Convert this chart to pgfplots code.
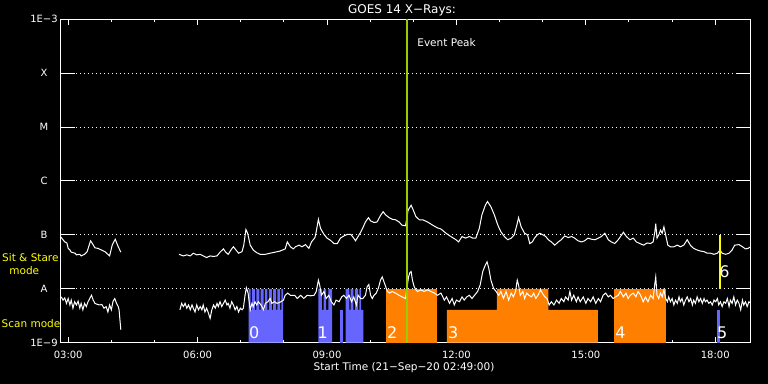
\documentclass[border=0pt]{standalone}
\usepackage{fontspec}
\setmainfont{DejaVu Sans}
\usepackage{pgfplots}
\pgfplotsset{compat=1.18}
\definecolor{scanblue}{RGB}{102,102,255}
\definecolor{sitorange}{RGB}{255,128,0}
\definecolor{peakgreen}{RGB}{154,205,0}
\definecolor{labyellow}{RGB}{255,255,0}
\begin{document}
\begin{tikzpicture}
\path[use as bounding box, fill=black] (0,0) rectangle (768bp,384bp);
\begin{axis}[
  at={(60.3bp,41.3bp)}, anchor=south west,
  scale only axis, width=690.2bp, height=323.4bp,
  xmin=2.817, xmax=18.817, ymin=-9, ymax=-3,
  axis line style={white, line width=1bp},
  xtick={3,6,9,12,15,18},
  xticklabels={03:00,06:00,09:00,12:00,15:00,18:00},
  minor x tick num=2,
  ytick={-9,-8,-7,-6,-5,-4,-3},
  yticklabels={1E−9,A,B,C,M,X,1E−3},
  xtick style={white, line width=1bp, /pgfplots/major tick length=6bp, /pgfplots/minor tick length=3bp},
  ytick style={white, line width=1bp, /pgfplots/major tick length=14.5bp},
  ymajorgrids,
  grid style={white, line width=1bp, dash pattern=on 1bp off 3bp},
  ticklabel style={white, font=\fontsize{10bp}{12bp}\selectfont},
  yticklabel style={anchor=center, xshift=-16.3bp},
  xticklabel style={anchor=center, yshift=-12.5bp},
]
% --- scan mode (blue) and sit & stare (orange) intervals
\addplot[fill=scanblue, draw=none] coordinates {(7.18,-9) (7.18,-8) (7.23,-8) (7.23,-8.39) (7.26,-8.39) (7.26,-8) (7.33,-8) (7.33,-8.39) (7.36,-8.39) (7.36,-8) (7.43,-8) (7.43,-8.39) (7.46,-8.39) (7.46,-8) (7.53,-8) (7.53,-8.39) (7.56,-8.39) (7.56,-8) (7.62,-8) (7.62,-8.39) (7.65,-8.39) (7.65,-8) (7.72,-8) (7.72,-8.39) (7.75,-8.39) (7.75,-8) (7.82,-8) (7.82,-8.39) (7.85,-8.39) (7.85,-8) (7.91,-8) (7.91,-8.39) (7.94,-8.39) (7.94,-8) (7.98,-8) (7.98,-9)} -- cycle;
\addplot[fill=scanblue, draw=none] coordinates {(8.80,-9) (8.80,-8) (8.88,-8) (8.88,-8.39) (8.92,-8.39) (8.92,-8) (8.98,-8) (8.98,-8.39) (9.03,-8.39) (9.03,-8) (9.12,-8) (9.12,-9)} -- cycle;
\addplot[fill=scanblue, draw=none] coordinates {(9.31,-9) (9.31,-8.39) (9.38,-8.39) (9.38,-9)} -- cycle;
\addplot[fill=scanblue, draw=none] coordinates {(9.43,-9) (9.43,-8) (9.52,-8) (9.52,-8.39) (9.55,-8.39) (9.55,-8) (9.61,-8) (9.61,-8.39) (9.65,-8.39) (9.65,-8) (9.72,-8) (9.72,-8.39) (9.75,-8.39) (9.75,-8) (9.79,-8) (9.79,-8.39) (9.84,-8.39) (9.84,-9)} -- cycle;
\addplot[fill=sitorange, draw=none] coordinates {(10.37,-9) (10.37,-8) (11.55,-8) (11.55,-9)} -- cycle;
\addplot[fill=sitorange, draw=none] coordinates {(11.78,-9) (11.78,-8.39) (12.94,-8.39) (12.94,-8) (14.13,-8) (14.13,-8.39) (15.28,-8.39) (15.28,-9)} -- cycle;
\addplot[fill=sitorange, draw=none] coordinates {(15.66,-9) (15.66,-8) (16.85,-8) (16.85,-9)} -- cycle;
\addplot[fill=scanblue, draw=none] coordinates {(18.03,-9) (18.03,-8.39) (18.12,-8.39) (18.12,-9)} -- cycle;
% --- long channel (upper)
\addplot[white, line width=1bp] coordinates {(2.82,-7.03) (2.92,-7.13) (2.97,-7.15) (3.00,-7.25) (3.04,-7.28) (3.07,-7.32) (3.16,-7.34) (3.19,-7.37) (3.27,-7.36) (3.30,-7.39) (3.38,-7.36) (3.44,-7.31) (3.51,-7.13) (3.52,-7.11) (3.56,-7.16) (3.62,-7.24) (3.69,-7.25) (3.77,-7.28) (3.85,-7.31) (3.96,-7.39) (4.02,-7.19) (4.09,-7.08) (4.16,-7.22) (4.22,-7.32)};
\addplot[white, line width=1bp] coordinates {(5.57,-7.36) (5.67,-7.39) (5.75,-7.37) (5.83,-7.39) (5.90,-7.34) (5.98,-7.37) (6.06,-7.36) (6.13,-7.39) (6.21,-7.42) (6.29,-7.39) (6.37,-7.40) (6.45,-7.39) (6.52,-7.32) (6.60,-7.26) (6.65,-7.32) (6.71,-7.36) (6.79,-7.26) (6.83,-7.22) (6.89,-7.28) (6.95,-7.34) (7.03,-7.31) (7.07,-7.19) (7.12,-6.90) (7.16,-6.97) (7.22,-7.19) (7.29,-7.28) (7.37,-7.33) (7.45,-7.36) (7.57,-7.36) (7.68,-7.34) (7.80,-7.32) (7.91,-7.30) (8.03,-7.26) (8.08,-7.13) (8.15,-7.22) (8.22,-7.26) (8.27,-7.22) (8.35,-7.19) (8.42,-7.22) (8.50,-7.18) (8.58,-7.25) (8.64,-7.13) (8.72,-7.05) (8.75,-6.94) (8.80,-6.71) (8.85,-6.88) (8.93,-6.99) (9.00,-7.06) (9.08,-7.10) (9.16,-7.16) (9.24,-7.16) (9.31,-7.06) (9.39,-7.02) (9.47,-6.99) (9.55,-6.99) (9.61,-7.05) (9.66,-7.11) (9.72,-7.03) (9.78,-6.95) (9.83,-6.87) (9.89,-6.76) (9.96,-6.68) (10.01,-6.74) (10.09,-6.77) (10.16,-6.76) (10.24,-6.64) (10.30,-6.57) (10.36,-6.63) (10.44,-6.68) (10.51,-6.71) (10.59,-6.72) (10.67,-6.76) (10.74,-6.82) (10.82,-6.83) (10.88,-6.54) (10.95,-6.45) (11.00,-6.54) (11.06,-6.66) (11.14,-6.72) (11.22,-6.72) (11.33,-6.76) (11.45,-6.82) (11.56,-6.87) (11.64,-6.89) (11.76,-6.97) (11.87,-7.03) (11.99,-7.09) (12.05,-7.13) (12.13,-7.03) (12.21,-7.06) (12.30,-7.03) (12.38,-7.06) (12.45,-7.06) (12.53,-6.88) (12.59,-6.63) (12.67,-6.45) (12.72,-6.38) (12.80,-6.48) (12.88,-6.63) (12.96,-6.82) (13.03,-6.94) (13.11,-7.03) (13.19,-7.09) (13.27,-7.06) (13.34,-7.00) (13.40,-6.82) (13.44,-6.68) (13.50,-6.85) (13.58,-6.97) (13.65,-7.00) (13.70,-7.16) (13.76,-7.13) (13.81,-7.06) (13.87,-7.00) (13.93,-6.97) (14.01,-7.00) (14.07,-7.03) (14.13,-7.09) (14.20,-7.13) (14.28,-7.19) (14.36,-7.13) (14.43,-7.09) (14.51,-7.02) (14.59,-7.05) (14.67,-7.03) (14.74,-7.06) (14.82,-7.11) (14.90,-7.13) (14.97,-7.11) (15.05,-7.06) (15.13,-7.08) (15.21,-7.09) (15.29,-7.06) (15.36,-7.03) (15.44,-6.97) (15.52,-7.09) (15.59,-7.13) (15.67,-7.16) (15.75,-7.09) (15.83,-7.00) (15.87,-6.95) (15.94,-7.03) (16.02,-7.09) (16.10,-7.06) (16.17,-7.13) (16.25,-7.16) (16.34,-7.19) (16.42,-7.15) (16.50,-7.16) (16.56,-7.13) (16.60,-6.94) (16.62,-6.79) (16.65,-7.06) (16.69,-7.00) (16.73,-6.91) (16.77,-6.97) (16.81,-6.85) (16.85,-7.00) (16.90,-7.19) (16.96,-7.22) (17.04,-7.22) (17.12,-7.19) (17.19,-7.22) (17.27,-7.19) (17.35,-7.09) (17.43,-7.20) (17.50,-7.25) (17.58,-7.28) (17.66,-7.30) (17.74,-7.31) (17.81,-7.34) (17.89,-7.34) (17.97,-7.36) (18.05,-7.34) (18.11,-7.28) (18.16,-7.34) (18.24,-7.36) (18.32,-7.34) (18.39,-7.28) (18.45,-7.19) (18.55,-7.18) (18.63,-7.22) (18.70,-7.26) (18.76,-7.25) (18.82,-7.22)};
% --- short channel (lower)
\addplot[white, line width=1bp] coordinates {(2.84,-8.15) (2.88,-8.21) (2.92,-8.17) (2.96,-8.27) (3.00,-8.18) (3.04,-8.30) (3.07,-8.21) (3.11,-8.36) (3.15,-8.24) (3.19,-8.30) (3.23,-8.23) (3.27,-8.36) (3.30,-8.27) (3.34,-8.39) (3.38,-8.27) (3.42,-8.33) (3.46,-8.24) (3.50,-8.18) (3.54,-8.12) (3.58,-8.21) (3.62,-8.27) (3.68,-8.29) (3.73,-8.30) (3.78,-8.29) (3.83,-8.36) (3.88,-8.33) (3.92,-8.43) (3.96,-8.30) (4.00,-8.39) (4.04,-8.23) (4.08,-8.18) (4.12,-8.27) (4.16,-8.33) (4.18,-8.39) (4.20,-8.58) (4.22,-8.76)};
\addplot[white, line width=1bp] coordinates {(5.59,-8.39) (5.63,-8.27) (5.67,-8.33) (5.71,-8.27) (5.75,-8.36) (5.79,-8.30) (5.83,-8.39) (5.87,-8.30) (5.90,-8.36) (5.94,-8.43) (5.98,-8.30) (6.02,-8.39) (6.06,-8.33) (6.10,-8.39) (6.13,-8.30) (6.17,-8.43) (6.21,-8.36) (6.25,-8.45) (6.29,-8.55) (6.33,-8.39) (6.37,-8.30) (6.41,-8.36) (6.45,-8.27) (6.48,-8.33) (6.52,-8.24) (6.56,-8.33) (6.60,-8.27) (6.64,-8.21) (6.68,-8.30) (6.71,-8.27) (6.75,-8.36) (6.79,-8.24) (6.83,-8.30) (6.87,-8.39) (6.91,-8.33) (6.95,-8.43) (6.99,-8.36) (7.03,-8.39) (7.06,-8.36) (7.10,-8.12) (7.13,-7.98) (7.17,-8.08) (7.22,-8.39) (7.26,-8.27) (7.29,-8.33) (7.33,-8.24) (7.37,-8.30) (7.41,-8.24) (7.47,-8.30) (7.53,-8.39) (7.57,-8.27) (7.63,-8.24) (7.68,-8.18) (7.72,-8.27) (7.78,-8.24) (7.84,-8.27) (7.91,-8.25) (7.99,-8.21) (8.03,-8.12) (8.09,-8.08) (8.15,-8.12) (8.20,-8.12) (8.25,-8.12) (8.31,-8.18) (8.39,-8.12) (8.46,-8.18) (8.54,-8.12) (8.62,-8.13) (8.70,-8.12) (8.75,-8.05) (8.80,-7.84) (8.83,-7.93) (8.87,-8.12) (8.93,-8.05) (8.98,-8.18) (9.04,-8.12) (9.10,-8.24) (9.16,-8.30) (9.21,-8.21) (9.28,-8.24) (9.34,-8.15) (9.39,-8.12) (9.45,-8.18) (9.51,-8.12) (9.57,-8.24) (9.62,-8.15) (9.68,-8.30) (9.72,-8.12) (9.78,-8.18) (9.83,-8.18) (9.89,-8.12) (9.93,-7.96) (9.97,-7.92) (10.01,-8.12) (10.05,-8.18) (10.09,-8.12) (10.14,-8.08) (10.19,-7.99) (10.24,-7.84) (10.28,-7.78) (10.32,-7.87) (10.36,-7.96) (10.40,-8.05) (10.45,-8.08) (10.51,-8.05) (10.59,-8.08) (10.67,-8.12) (10.74,-8.15) (10.82,-8.18) (10.89,-7.78) (10.92,-7.70) (10.95,-7.68) (10.98,-7.84) (11.02,-7.96) (11.06,-8.02) (11.10,-8.05) (11.18,-8.02) (11.25,-8.05) (11.33,-8.02) (11.41,-8.05) (11.49,-8.08) (11.56,-8.12) (11.64,-8.08) (11.72,-8.21) (11.77,-8.15) (11.84,-8.27) (11.90,-8.18) (11.95,-8.30) (12.00,-8.21) (12.07,-8.24) (12.13,-8.15) (12.18,-8.21) (12.24,-8.15) (12.30,-8.12) (12.36,-8.18) (12.42,-8.12) (12.49,-8.05) (12.55,-7.93) (12.61,-7.68) (12.67,-7.56) (12.71,-7.50) (12.75,-7.62) (12.80,-7.84) (12.86,-7.99) (12.92,-8.05) (12.98,-8.12) (13.03,-8.05) (13.09,-8.18) (13.15,-8.05) (13.21,-8.21) (13.27,-8.08) (13.32,-8.15) (13.37,-8.05) (13.41,-7.84) (13.44,-7.93) (13.48,-8.12) (13.54,-8.05) (13.58,-8.18) (13.63,-8.08) (13.68,-8.12) (13.74,-8.15) (13.79,-8.08) (13.84,-8.18) (13.89,-8.12) (13.95,-8.02) (13.99,-8.08) (14.05,-8.15) (14.10,-8.18) (14.15,-8.30) (14.20,-8.24) (14.26,-8.30) (14.32,-8.21) (14.38,-8.27) (14.43,-8.18) (14.49,-8.24) (14.53,-8.15) (14.59,-8.21) (14.63,-8.05) (14.67,-8.21) (14.72,-8.12) (14.78,-8.24) (14.82,-8.15) (14.87,-8.24) (14.94,-8.15) (15.00,-8.27) (15.05,-8.18) (15.11,-8.24) (15.17,-8.15) (15.23,-8.27) (15.29,-8.18) (15.34,-8.24) (15.40,-8.12) (15.46,-8.08) (15.52,-8.15) (15.57,-8.12) (15.63,-8.18) (15.69,-8.15) (15.75,-8.12) (15.80,-8.05) (15.87,-8.15) (15.93,-8.08) (15.98,-8.18) (16.03,-8.12) (16.10,-8.08) (16.16,-8.15) (16.21,-8.05) (16.27,-8.12) (16.33,-8.24) (16.38,-8.15) (16.44,-8.24) (16.50,-8.12) (16.56,-8.18) (16.60,-7.90) (16.62,-7.78) (16.65,-8.12) (16.69,-8.18) (16.73,-8.08) (16.77,-8.15) (16.81,-8.02) (16.85,-8.18) (16.89,-8.24) (16.92,-8.15) (16.96,-8.24) (17.00,-8.18) (17.04,-8.30) (17.08,-8.21) (17.12,-8.27) (17.16,-8.15) (17.19,-8.24) (17.23,-8.18) (17.27,-8.30) (17.31,-8.21) (17.35,-8.15) (17.39,-8.24) (17.43,-8.18) (17.47,-8.30) (17.50,-8.21) (17.54,-8.27) (17.58,-8.15) (17.62,-8.24) (17.66,-8.18) (17.70,-8.27) (17.74,-8.18) (17.77,-8.24) (17.81,-8.21) (17.85,-8.27) (17.89,-8.24) (17.93,-8.30) (17.97,-8.21) (18.01,-8.24) (18.05,-8.18) (18.08,-8.30) (18.12,-8.24) (18.16,-8.33) (18.20,-8.24) (18.24,-8.27) (18.28,-8.18) (18.32,-8.33) (18.35,-8.21) (18.39,-8.27) (18.43,-8.15) (18.47,-8.30) (18.51,-8.21) (18.55,-8.27) (18.59,-8.39) (18.63,-8.21) (18.66,-8.30) (18.70,-8.24) (18.74,-8.33) (18.78,-8.24) (18.82,-8.27)};
% --- event peak and mode-change marker
\addplot[peakgreen, line width=2bp] coordinates {(10.86,-9) (10.86,-3)};
\addplot[labyellow, line width=1.2bp] coordinates {(18.11,-7) (18.11,-8)};
% --- labels inside the plot
\node[white, anchor=west, inner sep=0, font=\fontsize{10.5bp}{12bp}\selectfont] at (axis cs:11.09,-3.44) {Event Peak};
\node[white, anchor=west, inner sep=0, font=\fontsize{16bp}{16bp}\selectfont] at (axis cs:7.19,-8.81) {0};
\node[white, anchor=west, inner sep=0, font=\fontsize{16bp}{16bp}\selectfont] at (axis cs:8.78,-8.81) {1};
\node[white, anchor=west, inner sep=0, font=\fontsize{16bp}{16bp}\selectfont] at (axis cs:10.39,-8.81) {2};
\node[white, anchor=west, inner sep=0, font=\fontsize{16bp}{16bp}\selectfont] at (axis cs:11.80,-8.81) {3};
\node[white, anchor=west, inner sep=0, font=\fontsize{16bp}{16bp}\selectfont] at (axis cs:15.68,-8.81) {4};
\node[white, anchor=west, inner sep=0, font=\fontsize{16bp}{16bp}\selectfont] at (axis cs:18.04,-8.81) {5};
\node[white, anchor=west, inner sep=0, font=\fontsize{16bp}{16bp}\selectfont] at (axis cs:18.09,-7.69) {6};
\end{axis}
\node[white, font=\fontsize{12bp}{14bp}\selectfont] at (402bp,374bp) {GOES 14 X−Rays:};
\node[white, font=\fontsize{10.5bp}{12bp}\selectfont] at (404bp,16.5bp) {Start Time (21−Sep−20 02:49:00)};
\node[labyellow, anchor=west, inner sep=0, font=\fontsize{10.5bp}{12bp}\selectfont] at (2bp,126bp) {Sit \& Stare};
\node[labyellow, font=\fontsize{10.5bp}{12bp}\selectfont] at (24.3bp,113bp) {mode};
\node[labyellow, anchor=west, inner sep=0, font=\fontsize{10.5bp}{12bp}\selectfont] at (1.5bp,60bp) {Scan mode};
\end{tikzpicture}
\end{document}
